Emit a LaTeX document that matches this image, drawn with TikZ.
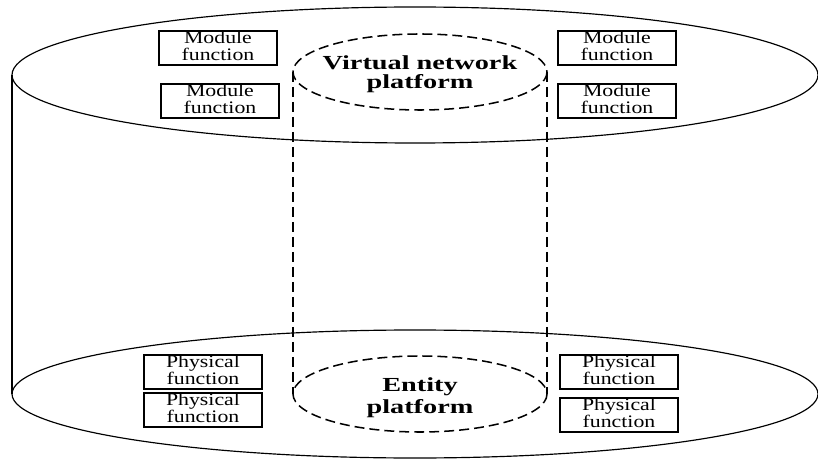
\documentclass[tikz,border=0pt]{standalone}
\usepackage{fontspec}
\setmainfont{Liberation Serif}
\usepackage{graphicx}
\usetikzlibrary{positioning}
\usetikzlibrary{shapes.geometric}
\newcommand{\boxtext}[1]{\scalebox{1.24}[1]{\begin{tabular}{@{}c@{}}#1\end{tabular}}}
\newcommand{\plattext}[1]{\scalebox{1.42}[1]{\begin{tabular}{@{}c@{}}#1\end{tabular}}}
\tikzset{
    outerline/.style = {draw=black, line width=1pt},
    innerline/.style = {draw=black, line width=1.3pt, dash pattern=on 8.5pt off 4.3pt},
    funcbox/.style = {rectangle, draw=black, line width=1.2pt, fill=white, inner sep=0pt, minimum width=3.54cm, minimum height=0.95cm},
    platlabel/.style = {inner sep=0pt, font=\fontsize{17}{15.3}\selectfont\bfseries},
}
\begin{document}
\begin{tikzpicture}[
	x=0.03cm,
	y=-0.03cm,
	font=\fontsize{15}{13}\selectfont
]
\useasboundingbox (0,0) rectangle (818,459);
%
\draw[outerline] (415,394) ellipse [x radius=403, y radius=64];
\draw[outerline] (415,75) ellipse [x radius=403, y radius=68];
\draw[outerline] (12,75) -- (12,394);
%
\draw[innerline] (420,72) ellipse [x radius=127, y radius=38];
\draw[innerline] (420,394) ellipse [x radius=127, y radius=38];
\draw[innerline] (293,72) -- (293,394);
\draw[innerline] (547,72) -- (547,394);
%
\node[platlabel] (vnp) at (420,75) {\plattext{Virtual network\hspace{18pt}\\platform}};
\node[platlabel] (ep) at (420,398) {\plattext{Entity\\[2.5pt]platform}};
%
\node[funcbox] (mtl) at (218,48) {\boxtext{Module\\function}};
\node[funcbox] (mbl) at (220,101) {\boxtext{Module\\function}};
\node[funcbox] (mtr) at (617,48) {\boxtext{Module\\function}};
\node[funcbox] (mbr) at (617,101) {\boxtext{Module\\function}};
%
\node[funcbox] (ptl) at (203,372) {\boxtext{Physical\\function}};
\node[funcbox] (pbl) at (203,410) {\boxtext{Physical\\function}};
\node[funcbox] (ptr) at (619,372) {\boxtext{Physical\\function}};
\node[funcbox] (pbr) at (619,415) {\boxtext{Physical\\function}};
\end{tikzpicture}
\end{document}
